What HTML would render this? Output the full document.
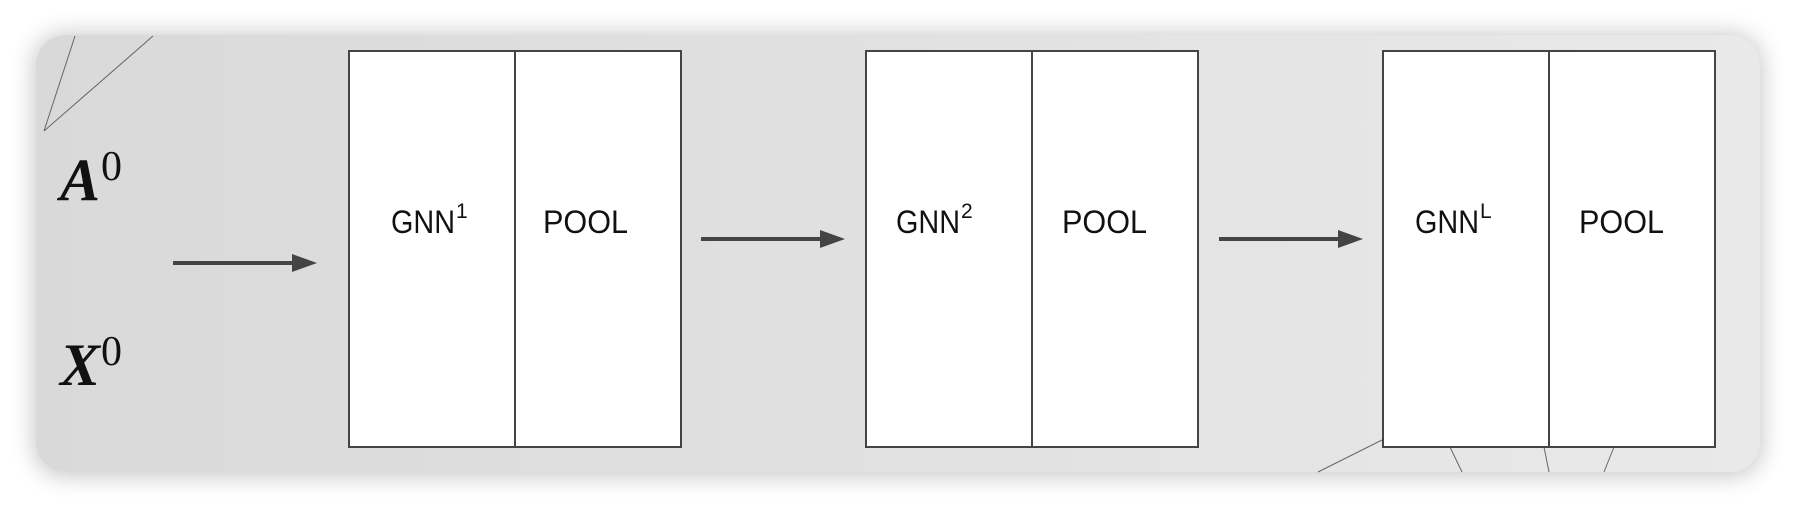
<!DOCTYPE html>
<html><head><meta charset="utf-8"><style>
html,body{margin:0;padding:0;background:#fff;width:1796px;height:508px;overflow:hidden}
</style></head><body>
<svg width="1796" height="508" viewBox="0 0 1796 508" xmlns="http://www.w3.org/2000/svg">
<defs>
<linearGradient id="bg" x1="0" x2="1" y1="0" y2="0">
<stop offset="0" stop-color="#d9d9d9"/><stop offset="1" stop-color="#e9e9e9"/>
</linearGradient>
<filter id="sh" x="-5%" y="-20%" width="110%" height="140%">
<feGaussianBlur stdDeviation="12"/>
</filter>
</defs>
<rect x="34" y="34" width="1728" height="442" rx="30" fill="#000" opacity="0.22" filter="url(#sh)"/>
<rect x="36" y="35" width="1724" height="437" rx="30" fill="url(#bg)"/>
<g stroke="#666" stroke-width="1" fill="none">
<line x1="44" y1="131" x2="75" y2="36"/><line x1="44" y1="131" x2="153" y2="36"/>
<line x1="1318" y1="472" x2="1382" y2="440"/><line x1="1450" y1="447" x2="1462" y2="472"/>
<line x1="1544" y1="447" x2="1549" y2="472"/><line x1="1614" y1="447" x2="1604" y2="472"/>
</g>
<g font-family="Liberation Serif, serif" fill="#111">
<text x="60" y="200" font-size="60" font-style="italic" font-weight="bold">A</text>
<text x="101" y="180" font-size="42">0</text>
<text x="60" y="385" font-size="60" font-style="italic" font-weight="bold">X</text>
<text x="101" y="365" font-size="42">0</text>
</g>
<g fill="#fff" stroke="#444" stroke-width="2">
<rect x="349" y="51" width="332" height="396"/><line x1="515" y1="51" x2="515" y2="447"/>
<rect x="866" y="51" width="332" height="396"/><line x1="1032" y1="51" x2="1032" y2="447"/>
<rect x="1383" y="51" width="332" height="396"/><line x1="1549" y1="51" x2="1549" y2="447"/>
</g>
<g stroke="#444" stroke-width="4"><line x1="173" y1="263" x2="295" y2="263"/><line x1="701" y1="239" x2="822" y2="239"/><line x1="1219" y1="239" x2="1340" y2="239"/></g>
<g fill="#444"><polygon points="292,254 317,263 292,272"/><polygon points="820,230 845,239 820,248"/><polygon points="1338,230 1363,239 1338,248"/></g>
<g font-family="Liberation Sans, sans-serif" font-size="32" fill="#111">
<text x="391" y="233" textLength="64" lengthAdjust="spacingAndGlyphs">GNN</text><text x="456" y="218" font-size="21">1</text>
<text x="543" y="233" textLength="85" lengthAdjust="spacingAndGlyphs">POOL</text>
<text x="896" y="233" textLength="64" lengthAdjust="spacingAndGlyphs">GNN</text><text x="961" y="218" font-size="21">2</text>
<text x="1062" y="233" textLength="85" lengthAdjust="spacingAndGlyphs">POOL</text>
<text x="1415" y="233" textLength="64" lengthAdjust="spacingAndGlyphs">GNN</text><text x="1480" y="218" font-size="21">L</text>
<text x="1579" y="233" textLength="85" lengthAdjust="spacingAndGlyphs">POOL</text>
</g>
</svg>
</body></html>
